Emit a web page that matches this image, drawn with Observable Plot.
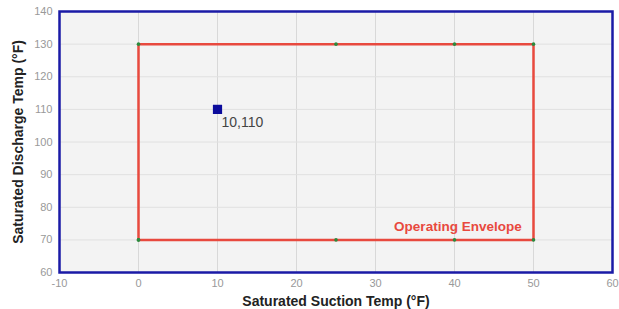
<!DOCTYPE html>
<html>
<head>
<meta charset="utf-8">
<script src="https://cdn.jsdelivr.net/npm/d3@7"></script>
<script src="https://cdn.jsdelivr.net/npm/@observablehq/plot@0.6"></script>
<style>
  body { margin: 0; background: #fff; }
  #chart svg { font-family: "Liberation Sans", Arial, sans-serif; }
  #chart svg [aria-label="x-axis label"] text,
  #chart svg [aria-label="y-axis label"] text { font-weight: bold; font-size: 14px; fill: #222; }
</style>
</head>
<body>
<div id="chart"></div>
<script>
// Envelope vertices (suction °F, discharge °F)
const envX = [0, 0, 25, 40, 50, 50, 40, 25, 0];
const envY = [70, 130, 130, 130, 130, 70, 70, 70, 70];
// Operating point
const ptX = [10];
const ptY = [110];
const ptLabel = ["10,110"];
// Ticks
const xTicks = [-10, 0, 10, 20, 30, 40, 50, 60];
const yTicks = [60, 70, 80, 90, 100, 110, 120, 130, 140];
const envLabel = ["Operating Envelope"];
const envLabelPos = { x: [48.5], y: [74] };

const envelope = envX.map((x, i) => ({ x, y: envY[i] }));
const points = ptX.map((x, i) => ({ x, y: ptY[i], label: ptLabel[i] }));
const labels = envLabel.map((t, i) => ({ x: envLabelPos.x[i], y: envLabelPos.y[i], t }));

const chart = Plot.plot({
  width: 619,
  height: 309,
  marginLeft: 59,
  marginRight: 7,
  marginTop: 11,
  marginBottom: 37,
  style: { background: "#fff", fontSize: "11px" },
  x: { domain: [-10, 60], ticks: xTicks, label: "Saturated Suction Temp (°F)" },
  y: { domain: [60, 140], ticks: yTicks, label: "Saturated Discharge Temp (°F)" },
  marks: [
    Plot.frame({ fill: "#f3f3f3", stroke: null }),
    Plot.gridX(xTicks, { stroke: "#d8d8d8", strokeOpacity: 1 }),
    Plot.gridY(yTicks, { stroke: "#e0e0e0", strokeOpacity: 1 }),
    Plot.axisX(xTicks, { tickSize: 0, tickPadding: 7, fill: "#999", tickFormat: d => String(d), label: "Saturated Suction Temp (°F)", labelAnchor: "center", labelArrow: "none", labelOffset: 33 }),
    Plot.axisY(yTicks, { tickSize: 0, tickPadding: 7, fill: "#999", tickFormat: d => String(d), label: "Saturated Discharge Temp (°F)", labelAnchor: "center", labelArrow: "none", labelOffset: 46 }),
    Plot.line(envelope, { x: "x", y: "y", stroke: "#e8493e", strokeWidth: 2.5 }),
    Plot.dot(envelope, { x: "x", y: "y", r: 1.8, fill: "#2b8a3e", stroke: null }),
    Plot.text(labels, { x: "x", y: "y", text: "t", textAnchor: "end", fill: "#e8493e", fontWeight: "bold", fontSize: 13.5 }),
    Plot.dot(points, { x: "x", y: "y", symbol: "square", r: 5.2, fill: "#0c0c9c", stroke: null }),
    Plot.text(points, { x: "x", y: "y", text: "label", textAnchor: "start", dx: 4, dy: 13, fill: "#444", fontSize: 14 }),
    Plot.frame({ stroke: "#1a1aa6", strokeWidth: 2.5 })
  ]
});
document.getElementById("chart").appendChild(chart);
</script>
</body>
</html>
